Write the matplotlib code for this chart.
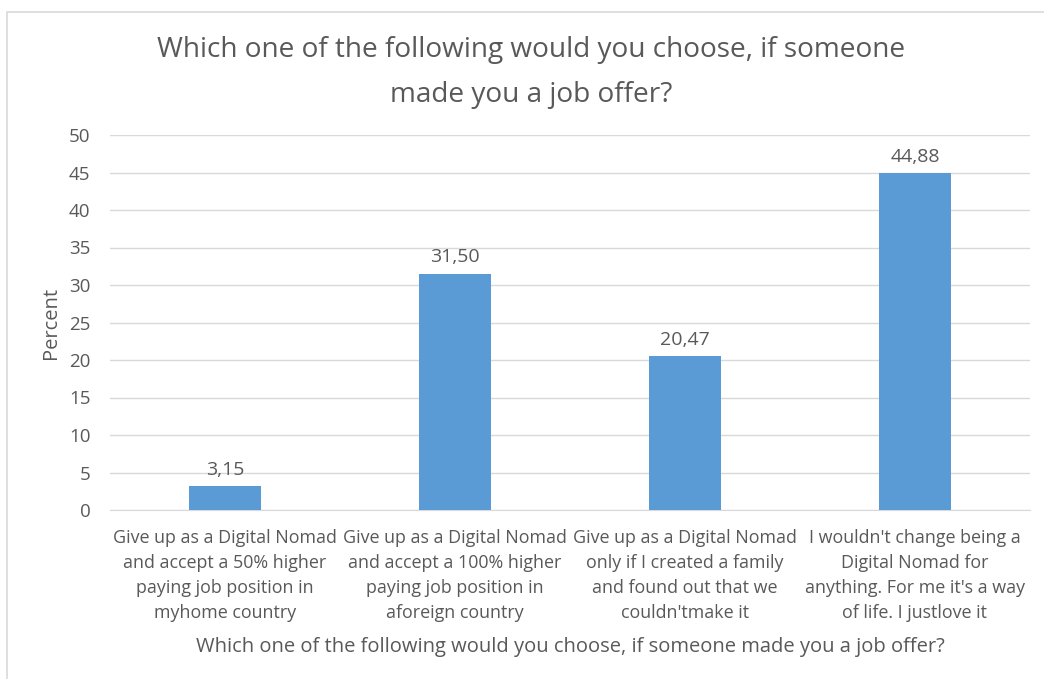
import matplotlib.pyplot as plt
from matplotlib.patches import Rectangle

plt.rcParams['font.family'] = ['Open Sans', 'DejaVu Sans']

categories = [
    "Give up as a Digital Nomad\nand accept a 50% higher\npaying job position in\nmyhome country",
    "Give up as a Digital Nomad\nand accept a 100% higher\npaying job position in\naforeign country",
    "Give up as a Digital Nomad\nonly if I created a family\nand found out that we\ncouldn'tmake it",
    "I wouldn't change being a\nDigital Nomad for\nanything. For me it's a way\nof life. I justlove it",
]
percent = [3.15, 31.50, 20.47, 44.88]
yticks = [0, 5, 10, 15, 20, 25, 30, 35, 40, 45, 50]

text_color = '#595959'
bar_color = '#5B9BD5'
grid_color = '#D9D9D9'

fig = plt.figure(figsize=(10.44, 6.79), dpi=100)
ax = fig.add_axes([110 / 1044, 1 - 510 / 679, 920 / 1044, 375 / 679])

# chart border (only left and top edges show in the crop)
fig.patches.append(Rectangle((7 / 1044, -0.2), 1.2, 1.2 - 12 / 679,
                             transform=fig.transFigure, fill=False,
                             edgecolor='#D9D9D9', linewidth=1.2))

x = range(len(categories))
bars = ax.bar(x, percent, width=0.315, color=bar_color, zorder=3)
for b, v in zip(bars, percent):
    ax.text(b.get_x() + b.get_width() / 2, v + 1.0, f"{v:.2f}".replace('.', ','),
            ha='center', va='bottom', fontsize=14, color=text_color)

ax.set_xlim(-0.5, len(categories) - 0.5)
ax.set_ylim(0, 50)
ax.set_yticks(yticks)
ax.set_xticks(list(x))
ax.set_xticklabels(categories, fontsize=12.9, color=text_color, linespacing=1.5)
ax.tick_params(axis='y', labelsize=13.5, colors=text_color, length=0, pad=14)
ax.tick_params(axis='x', length=0, pad=14)
ax.yaxis.grid(True, color=grid_color, linewidth=1)
ax.set_axisbelow(True)
for s in ['top', 'right', 'left']:
    ax.spines[s].set_visible(False)
ax.spines['bottom'].set_color(grid_color)

ax.set_ylabel('Percent', fontsize=14.5, color=text_color, labelpad=6)
ax.set_xlabel('Which one of the following would you choose, if someone made you a job offer?',
              fontsize=14.5, color=text_color, labelpad=10.5)
fig.text(531 / 1044, 1 - 72.5 / 679,
         'Which one of the following would you choose, if someone\nmade you a job offer?',
         ha='center', va='center', fontsize=20.2, color=text_color, linespacing=1.8)

fig.savefig('out.png', dpi=100)
